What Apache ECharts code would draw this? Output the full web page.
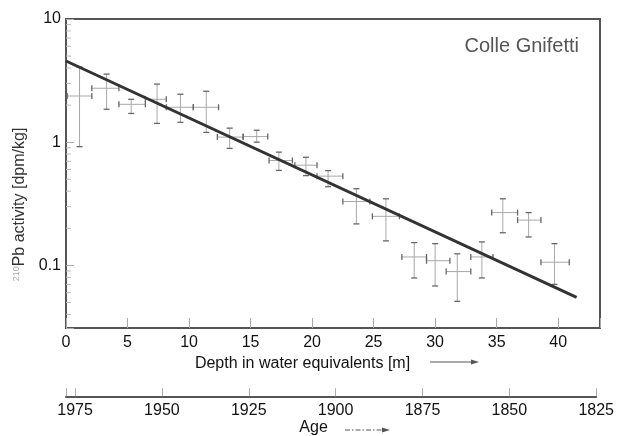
<!DOCTYPE html>
<html>
<head>
<meta charset="utf-8">
<script src="https://cdn.jsdelivr.net/npm/echarts@6/dist/echarts.min.js"></script>
<style>html,body{margin:0;padding:0;background:#fff}#c{width:617px;height:436px}</style>
</head>
<body>
<div id="c"></div>
<script>
// Data
const depth        = [1.1, 3.3, 5.3, 7.4, 9.3, 11.4, 13.3, 15.5, 17.3, 19.5, 21.3, 23.6, 26.0, 28.3, 30.0, 31.8, 33.8, 35.5, 37.6, 39.7];
const activity     = [2.37, 2.74, 2.03, 2.23, 1.92, 1.92, 1.10, 1.11, 0.71, 0.65, 0.53, 0.33, 0.25, 0.117, 0.109, 0.089, 0.117, 0.268, 0.233, 0.106];
const depthLow     = [0.1, 2.1, 4.3, 6.45, 8.15, 10.35, 12.3, 14.4, 16.5, 18.6, 20.4, 22.5, 24.9, 27.3, 29.3, 30.9, 32.9, 34.6, 36.7, 38.6];
const depthHigh    = [2.1, 4.3, 6.45, 8.15, 10.35, 12.4, 14.4, 16.4, 18.4, 20.4, 22.5, 24.7, 27.1, 29.3, 31.2, 32.9, 34.7, 36.7, 38.6, 40.9];
const activityLow  = [0.92, 1.85, 1.71, 1.42, 1.45, 1.2, 0.89, 1.0, 0.59, 0.535, 0.435, 0.217, 0.158, 0.079, 0.068, 0.051, 0.079, 0.184, 0.17, 0.070];
const activityHigh = [4.07, 3.57, 2.23, 2.96, 2.45, 2.59, 1.30, 1.25, 0.83, 0.754, 0.588, 0.419, 0.347, 0.153, 0.15, 0.124, 0.155, 0.347, 0.268, 0.15];
const fitDepth     = [0, 41.5];
const fitActivity  = [4.56, 0.055];
const minorTickValues = [0.04,0.05,0.06,0.07,0.08,0.09,0.2,0.3,0.4,0.5,0.6,0.7,0.8,0.9,2,3,4,5,6,7,8,9];
const depthTicks = [0,5,10,15,20,25,30,35,40];
const yearTicks  = [1975,1950,1925,1900,1875,1850,1825];

const FONT = "'Liberation Sans', Arial, Helvetica, sans-serif";
const chart = echarts.init(document.getElementById('c'), null, {renderer: 'canvas'});

const errData = depth.map((d, i) => [d, activity[i], depthLow[i], depthHigh[i], activityLow[i], activityHigh[i]]);
const fitData = fitDepth.map((d, i) => [d, fitActivity[i]]);

function isPow10(v) {
  const l = Math.log10(v);
  return Math.abs(l - Math.round(l)) < 1e-6;
}

const option = {
  animation: false,
  backgroundColor: '#fff',
  textStyle: {fontFamily: FONT},
  title: {
    text: 'Colle Gnifetti', right: 33, top: 31,
    textStyle: {fontSize: 20, fontWeight: 'normal', color: '#555', fontFamily: FONT}
  },
  grid: [
    {left: 66, top: 19, right: 17, bottom: 108, show: true, borderColor: '#555', borderWidth: 2, backgroundColor: 'transparent'},
    {left: 66, right: 19, top: 396, height: 1, show: false}
  ],
  xAxis: [
    {
      type: 'value', gridIndex: 0, min: 0, max: 43.4, interval: 5,
      name: 'Depth in water equivalents [m]', nameLocation: 'middle', nameGap: 24,
      nameTextStyle: {fontSize: 16, color: '#111', fontFamily: FONT, padding: [0, 61, 0, 0]},
      axisLine: {show: false},
      axisTick: {show: true, inside: true, length: 10, lineStyle: {color: '#aaa', width: 1}},
      axisLabel: {fontSize: 16, color: '#111', margin: 7, fontFamily: FONT,
        formatter: v => depthTicks.indexOf(Math.round(v * 1000) / 1000) >= 0 ? String(v) : ''},
      splitLine: {show: false}
    },
    {
      type: 'value', gridIndex: 1, min: 1825, max: 1977.6, interval: 25, inverse: true, position: 'bottom',
      name: 'Age', nameLocation: 'middle', nameGap: 23,
      nameTextStyle: {fontSize: 16, color: '#111', fontFamily: FONT, padding: [0, 35, 0, 0]},
      axisLine: {show: true, lineStyle: {color: '#555', width: 2}},
      axisTick: {show: true, inside: true, length: 8, lineStyle: {color: '#aaa', width: 1}},
      axisLabel: {fontSize: 16, color: '#111', margin: 6, fontFamily: FONT,
        formatter: v => yearTicks.indexOf(Math.round(v)) >= 0 && Math.abs(v - Math.round(v)) < 1e-6 ? String(v) : ''},
      splitLine: {show: false}
    }
  ],
  yAxis: [
    {
      type: 'log', logBase: 10, gridIndex: 0, min: 0.031, max: 10, splitNumber: 3,
      name: '{s|210}Pb activity [dpm/kg]', nameLocation: 'middle', nameRotate: 90, nameGap: 32,
      nameTextStyle: {fontSize: 16, color: '#333', fontFamily: FONT, padding: [0, 62, 0, 0],
        rich: {s: {fontSize: 9, color: '#aaa', verticalAlign: 'top', fontFamily: FONT}}},
      axisLine: {show: false},
      axisTick: {show: true, inside: true, length: 8, lineStyle: {color: '#aaa', width: 1}},
      axisLabel: {fontSize: 16, color: '#111', margin: 5, fontFamily: FONT,
        formatter: v => isPow10(v) ? (v >= 1 ? String(Math.round(v)) : String(+v.toPrecision(3))) : ''},
      splitLine: {show: false}
    },
    {type: 'value', gridIndex: 1, show: false}
  ],
  graphic: [
    {type: 'line', shape: {x1: 430, y1: 362, x2: 474, y2: 362}, style: {stroke: '#555', lineWidth: 1}},
    {type: 'polygon', shape: {points: [[471, 359.5], [479, 362], [471, 364.5]]}, style: {fill: '#555'}},
    {type: 'line', shape: {x1: 345, y1: 430, x2: 384, y2: 430}, style: {stroke: '#555', lineWidth: 1, lineDash: [5, 2, 1.5, 2]}},
    {type: 'polygon', shape: {points: [[382, 427.5], [390, 430], [382, 432.5]]}, style: {fill: '#555'}}
  ],
  series: [
    {
      type: 'custom', xAxisIndex: 0, yAxisIndex: 0, silent: true,
      data: minorTickValues.map(v => [0, v]),
      encode: {x: 0, y: 1},
      renderItem: function (params, api) {
        const p = api.coord([api.value(0), api.value(1)]);
        return {type: 'line', shape: {x1: p[0], y1: p[1], x2: p[0] + 5, y2: p[1]},
          style: {stroke: '#bbb', lineWidth: 1}};
      }
    },
    {
      type: 'custom', xAxisIndex: 0, yAxisIndex: 0, silent: true,
      data: errData,
      encode: {x: [0, 2, 3], y: [1, 4, 5]},
      renderItem: function (params, api) {
        const x = api.value(0), y = api.value(1);
        const pl = api.coord([api.value(2), y]);
        const ph = api.coord([api.value(3), y]);
        const pb = api.coord([x, api.value(4)]);
        const pt = api.coord([x, api.value(5)]);
        const bar = {stroke: '#a8a8a8', lineWidth: 1};
        const cap = {stroke: '#666', lineWidth: 1.3};
        return {type: 'group', children: [
          {type: 'line', shape: {x1: pl[0], y1: pl[1], x2: ph[0], y2: ph[1]}, style: bar},
          {type: 'line', shape: {x1: pb[0], y1: pb[1], x2: pt[0], y2: pt[1]}, style: bar},
          {type: 'line', shape: {x1: pl[0], y1: pl[1] - 3, x2: pl[0], y2: pl[1] + 3}, style: cap},
          {type: 'line', shape: {x1: ph[0], y1: ph[1] - 3, x2: ph[0], y2: ph[1] + 3}, style: cap},
          {type: 'line', shape: {x1: pb[0] - 3, y1: pb[1], x2: pb[0] + 3, y2: pb[1]}, style: cap},
          {type: 'line', shape: {x1: pt[0] - 3, y1: pt[1], x2: pt[0] + 3, y2: pt[1]}, style: cap}
        ]};
      }
    },
    {
      type: 'line', xAxisIndex: 0, yAxisIndex: 0, data: fitData, symbol: 'none', silent: true,
      lineStyle: {color: '#333', width: 3}
    }
  ]
};
chart.setOption(option);
</script>
</body>
</html>
